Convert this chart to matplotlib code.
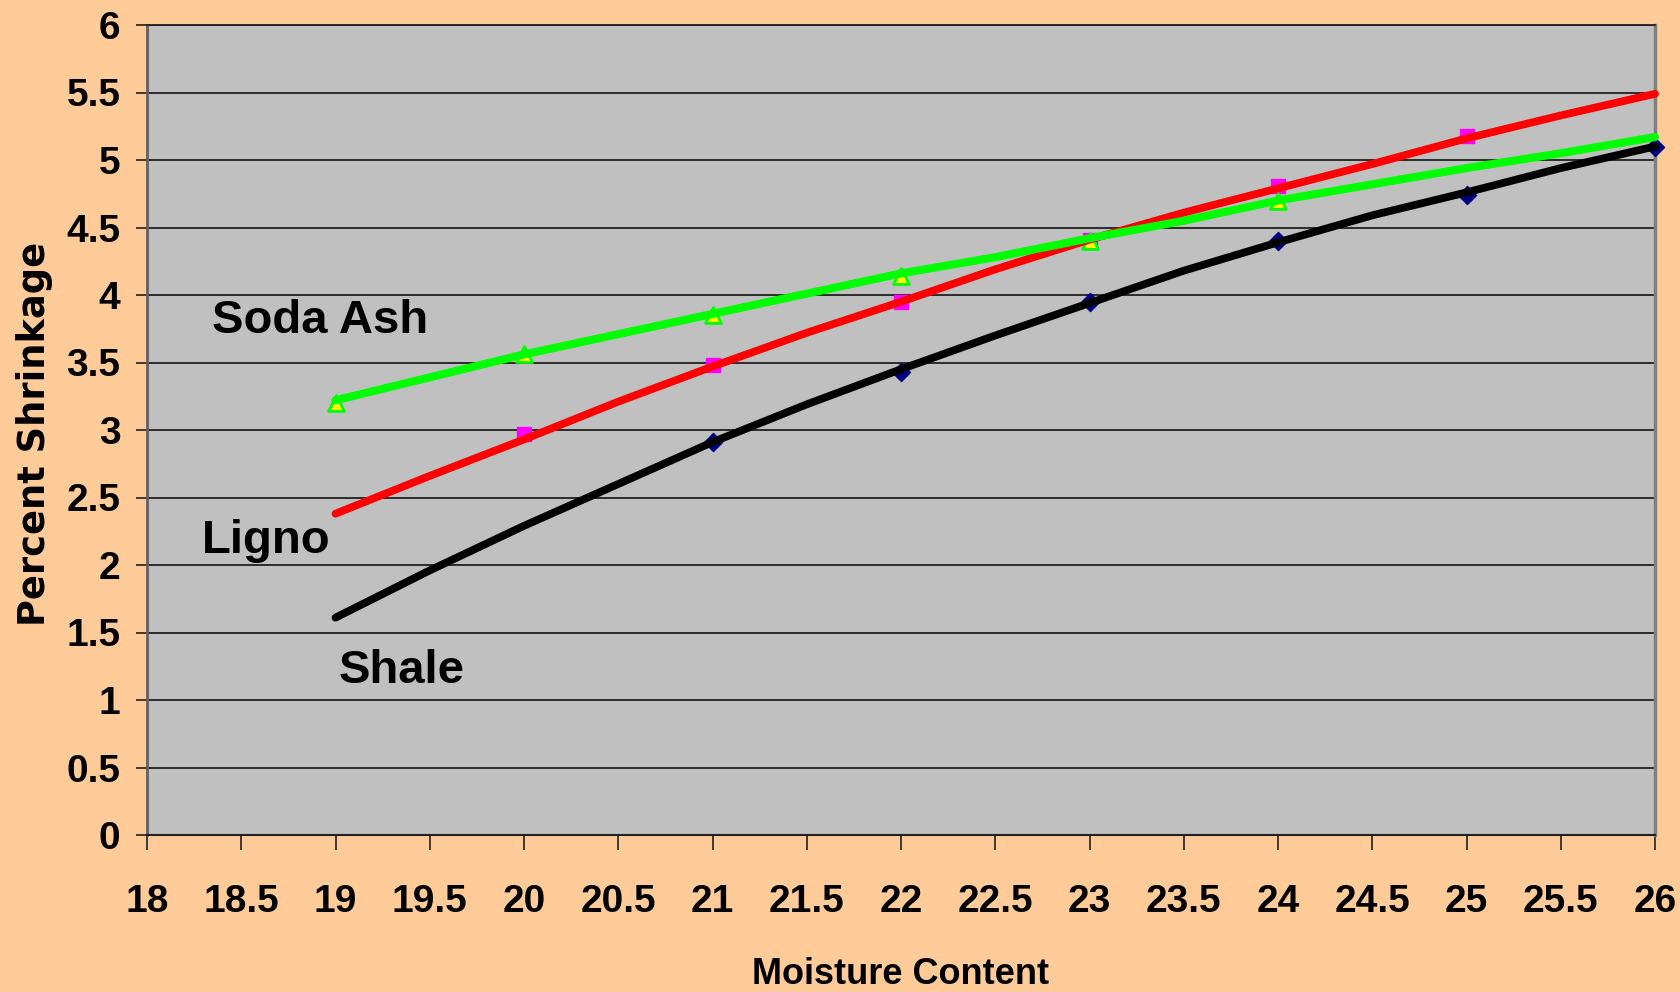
import matplotlib
matplotlib.use("Agg")
import matplotlib.pyplot as plt
from matplotlib import font_manager as fm

# ---------------- data ----------------
x_trend = [19, 19.5, 20, 20.5, 21, 21.5, 22, 22.5, 23, 23.5, 24, 24.5, 25, 25.5, 26]
shale_trend = [1.61, 1.96, 2.29, 2.60, 2.91, 3.19, 3.45, 3.70, 3.94, 4.18, 4.39, 4.59, 4.76, 4.94, 5.10]
ligno_trend = [2.38, 2.66, 2.93, 3.21, 3.47, 3.72, 3.95, 4.19, 4.41, 4.61, 4.79, 4.97, 5.16, 5.33, 5.49]
soda_trend = [3.22, 3.39, 3.56, 3.71, 3.86, 4.01, 4.16, 4.28, 4.42, 4.55, 4.70, 4.82, 4.94, 5.05, 5.17]

shale_x = [21, 22, 23, 24, 25, 26]
shale_y = [2.91, 3.43, 3.95, 4.40, 4.74, 5.10]
ligno_x = [20, 21, 22, 23, 24, 25]
ligno_y = [2.97, 3.48, 3.95, 4.41, 4.81, 5.18]
soda_x = [19, 20, 21, 22, 23, 24]
soda_y = [3.20, 3.56, 3.85, 4.14, 4.40, 4.70]

x_ticks = [18, 18.5, 19, 19.5, 20, 20.5, 21, 21.5, 22, 22.5, 23, 23.5, 24, 24.5, 25, 25.5, 26]
y_ticks = [0, 0.5, 1, 1.5, 2, 2.5, 3, 3.5, 4, 4.5, 5, 5.5, 6]
x_tick_labels = ["18", "18.5", "19", "19.5", "20", "20.5", "21", "21.5", "22", "22.5",
                 "23", "23.5", "24", "24.5", "25", "25.5", "26"]
y_tick_labels = ["0", "0.5", "1", "1.5", "2", "2.5", "3", "3.5", "4", "4.5", "5", "5.5", "6"]

# ---------------- fonts ----------------
def pick(names):
    for n in names:
        try:
            fm.findfont(fm.FontProperties(family=n), fallback_to_default=False)
            return n
        except Exception:
            continue
    return "DejaVu Sans"

narrow = pick(["Liberation Sans Narrow", "Arial Narrow", "Liberation Sans"])
wide = pick(["DejaVu Sans"])

BG = "#FFCC99"
PLOT_BG = "#C0C0C0"

fig = plt.figure(figsize=(16.8, 9.92), dpi=100, facecolor=BG)
ax = fig.add_axes([147 / 1680, 1 - 835 / 992, (1655 - 147) / 1680, (835 - 25) / 992])
ax.set_facecolor(PLOT_BG)

ax.set_xlim(18, 26)
ax.set_ylim(0, 6)

# gridlines
ax.set_axisbelow(True)
ax.yaxis.grid(True, color="#202020", linewidth=1.3)
ax.xaxis.grid(False)

# markers (under trendlines)
ax.scatter(shale_x, shale_y, marker="D", s=85, color="#000080", zorder=3, clip_on=False)
ax.scatter(ligno_x, ligno_y, marker="s", s=95, color="#FF00FF", zorder=3, clip_on=False)
ax.scatter(soda_x, soda_y, marker="^", s=130, facecolor="#FFFF00", edgecolor="#00FF00",
           linewidth=2, zorder=3, clip_on=False)

# trendlines
ax.plot(x_trend, shale_trend, color="black", linewidth=5.6, solid_capstyle="round", zorder=4, clip_on=False)
ax.plot(x_trend, ligno_trend, color="#FF0000", linewidth=5.6, solid_capstyle="round", zorder=4, clip_on=False)
ax.plot(x_trend, soda_trend, color="#00FF00", linewidth=5.8, solid_capstyle="round", zorder=4, clip_on=False)

# series labels
ax.text(18 + (320 - 147) / 188.5, (835 - 321) / 135, "Soda Ash", fontsize=34, fontweight="bold",
        family=narrow, ha="center", va="center", zorder=5)
ax.text(18 + (266 - 147) / 188.5, (835 - 541) / 135, "Ligno", fontsize=34, fontweight="bold",
        family=narrow, ha="center", va="center", zorder=5)
ax.text(18 + (402 - 147) / 188.5, (835 - 671) / 135, "Shale", fontsize=34, fontweight="bold",
        family=narrow, ha="center", va="center", zorder=5)

# ticks
ax.set_xticks(x_ticks)
ax.set_xticklabels(x_tick_labels)
ax.set_yticks(y_ticks)
ax.set_yticklabels(y_tick_labels)
ax.tick_params(axis="x", direction="out", length=11, width=1.2, color="#202020", pad=24)
ax.tick_params(axis="y", direction="out", length=8, width=1.2, color="#202020", pad=11)
for lab in ax.get_xticklabels() + ax.get_yticklabels():
    lab.set_fontfamily(narrow)
    lab.set_fontweight("bold")
    lab.set_fontsize(28)

# spines
ax.spines["left"].set_color("#606060")
ax.spines["left"].set_linewidth(2)
ax.spines["right"].set_color("#808080")
ax.spines["right"].set_linewidth(2.5)
ax.spines["top"].set_color("#202020")
ax.spines["top"].set_linewidth(1.3)
ax.spines["bottom"].set_color("#202020")
ax.spines["bottom"].set_linewidth(1.5)

# axis labels
ax.set_xlabel("Moisture Content", fontsize=26, fontweight="bold", family=narrow)
ax.xaxis.set_label_coords(0.5, -0.172)
ax.xaxis.label.set_va("center")
ax.set_ylabel("Percent Shrinkage", fontsize=26.5, fontweight="bold", family=wide)
ax.yaxis.set_label_coords((35 - 147) / 1508, (835 - 434) / 810)
ax.yaxis.label.set_va("center")

fig.savefig("out.png", dpi=100, facecolor=BG)
